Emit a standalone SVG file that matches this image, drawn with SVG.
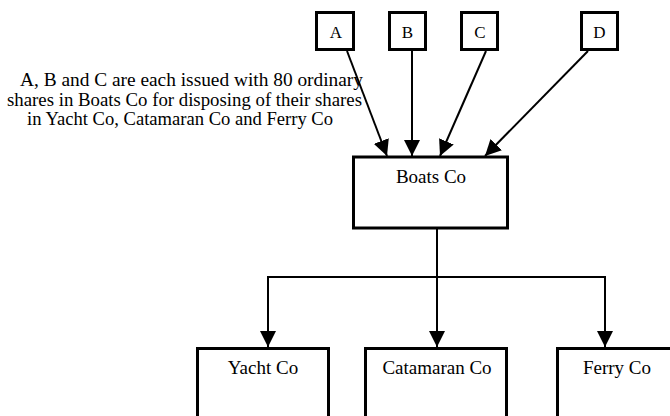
<svg xmlns="http://www.w3.org/2000/svg" width="670" height="416" viewBox="0 0 670 416">
<style>
.box{fill:#fff;stroke:#000;stroke-width:3}
.lbl{font-family:"Liberation Serif","Times New Roman",serif;font-size:19px;fill:#000;text-anchor:middle}
.sm{font-size:17px}
.note{font-family:"Liberation Serif","Times New Roman",serif;font-size:19.5px;fill:#000}
.con{fill:none;stroke:#000;stroke-width:2}
</style>
<defs>
<marker id="ah" markerUnits="userSpaceOnUse" markerWidth="16" markerHeight="16" viewBox="0 0 14 14" refX="14" refY="7" orient="auto">
<path d="M0,0 L14,7 L0,14 Z" fill="#000"/>
</marker>
</defs>
<rect width="670" height="416" fill="#fff"/>
<g id="connectors">
<path class="con" d="M347,51 L387,156" marker-end="url(#ah)"/>
<path class="con" d="M412,51 L412,156" marker-end="url(#ah)"/>
<path class="con" d="M486,51 L440,156" marker-end="url(#ah)"/>
<path class="con" d="M588,51 L485,156" marker-end="url(#ah)"/>
<path class="con" d="M437,228 L437,347" marker-end="url(#ah)"/>
<path class="con" d="M268,347 L268,277 L605,277 L605,347" stroke-width="1.6"/>
<path class="con" d="M268,300 L268,347" marker-end="url(#ah)"/>
<path class="con" d="M605,300 L605,347" marker-end="url(#ah)"/>
</g>
<g id="note">
<text class="note" x="20" y="86" textLength="343" lengthAdjust="spacingAndGlyphs">A, B and C are each issued with 80 ordinary</text>
<text class="note" x="7" y="106" textLength="355" lengthAdjust="spacingAndGlyphs">shares in Boats Co for disposing of their shares</text>
<text class="note" x="27" y="125" textLength="306" lengthAdjust="spacingAndGlyphs">in Yacht Co, Catamaran Co and Ferry Co</text>
</g>
<g id="A"><rect class="box" x="316.5" y="12.5" width="37" height="37"/><text class="lbl sm" x="336" y="38">A</text></g>
<g id="B"><rect class="box" x="389.5" y="12.5" width="36" height="37"/><text class="lbl sm" x="407.5" y="38">B</text></g>
<g id="C"><rect class="box" x="461.5" y="12.5" width="36" height="37"/><text class="lbl sm" x="480" y="38">C</text></g>
<g id="D"><rect class="box" x="581.5" y="12.5" width="36" height="37"/><text class="lbl sm" x="599.5" y="38">D</text></g>
<g id="boats"><rect class="box" x="353.5" y="157" width="154" height="71"/><text class="lbl" x="431" y="183">Boats Co</text></g>
<g id="yacht"><rect class="box" x="197.5" y="348.5" width="131" height="80"/><text class="lbl" x="263" y="374">Yacht Co</text></g>
<g id="catamaran"><rect class="box" x="365.5" y="348.5" width="141" height="80"/><text class="lbl" x="437" y="374">Catamaran Co</text></g>
<g id="ferry"><rect class="box" x="557.5" y="348.5" width="130" height="80"/><text class="lbl" x="617" y="374">Ferry Co</text></g>
</svg>
